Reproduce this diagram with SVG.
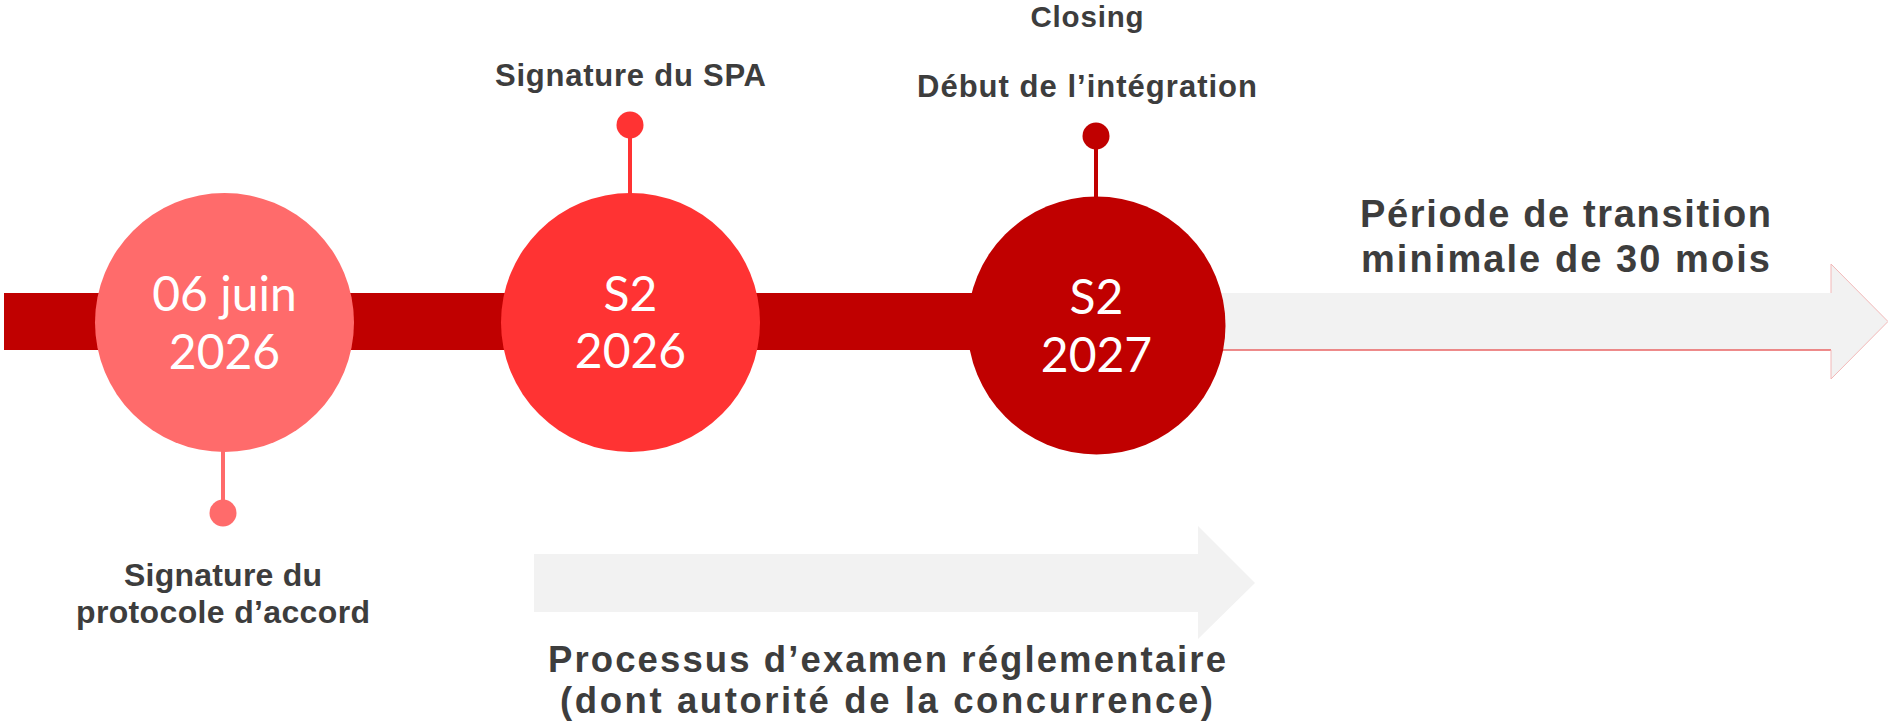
<svg xmlns="http://www.w3.org/2000/svg" width="1888" height="722" viewBox="0 0 1888 722">
  <style>
    .lbl { font-family: "Liberation Sans", Arial, sans-serif; font-weight: 700; fill: #3d3d3d; text-anchor: middle; }
    .date { font-family: "Lato", "Open Sans", sans-serif; font-weight: 400; fill: #ffffff; text-anchor: middle; font-size: 48px; }
    .stem { stroke-width: 4; }
  </style>
  <rect width="1888" height="722" fill="#ffffff"/>
  <g id="connectors">
    <rect x="4" y="293" width="1100" height="57" fill="#C00000"/>
    <g id="transition-arrow">
      <polygon points="1200,293 1831,293 1831,264 1888,321.5 1831,379 1831,350 1200,350" fill="#F2F2F2"/>
      <line x1="1200" y1="350" x2="1831" y2="350" stroke="#E86464" stroke-width="1.5"/>
      <polyline points="1831,293 1831,264 1888,321.5 1831,379 1831,350" fill="none" stroke="#F2B8B8" stroke-width="1"/>
    </g>
    <g id="review-arrow">
      <polygon points="534,554 1198,554 1198,526 1255,583 1198,639 1198,612 534,612" fill="#F2F2F2"/>
    </g>
    <line class="stem" x1="223" y1="440" x2="223" y2="513" stroke="#FF6B6B"/>
    <line class="stem" x1="630" y1="125" x2="630" y2="200" stroke="#FF3333"/>
    <line class="stem" x1="1096" y1="136" x2="1096" y2="205" stroke="#C00000"/>
  </g>
  <g id="node-1">
    <circle cx="224.5" cy="322.5" r="129.5" fill="#FF6B6B"/>
    <circle cx="223" cy="513" r="13.5" fill="#FF6B6B"/>
    <text class="date" x="224.5" y="311">06 juin</text>
    <text class="date" x="224.5" y="369">2026</text>
    <text class="lbl" x="223" y="586" font-size="32" textLength="198">Signature du</text>
    <text class="lbl" x="223" y="623" font-size="32" textLength="294">protocole d’accord</text>
  </g>
  <g id="node-2">
    <circle cx="630.5" cy="322.5" r="129.5" fill="#FF3333"/>
    <circle cx="630" cy="125" r="13.5" fill="#FF3333"/>
    <text class="date" x="630.5" y="311">S2</text>
    <text class="date" x="630.5" y="368">2026</text>
    <text class="lbl" x="630.5" y="86" font-size="31" textLength="271">Signature du SPA</text>
  </g>
  <g id="node-3">
    <circle cx="1096.5" cy="325.5" r="129" fill="#C00000"/>
    <circle cx="1096" cy="136" r="13.5" fill="#C00000"/>
    <text class="date" x="1096.5" y="314">S2</text>
    <text class="date" x="1096.5" y="372">2027</text>
    <text class="lbl" x="1087" y="27" font-size="29.5" textLength="113">Closing</text>
    <text class="lbl" x="1087" y="97" font-size="31" textLength="340">Début de l’intégration</text>
  </g>
  <g id="label-transition">
    <text class="lbl" x="1565.5" y="227" font-size="38" textLength="411">Période de transition</text>
    <text class="lbl" x="1565.5" y="272" font-size="38" textLength="409">minimale de 30 mois</text>
  </g>
  <g id="label-review">
    <text class="lbl" x="887" y="672" font-size="36.5" textLength="678">Processus d’examen réglementaire</text>
    <text class="lbl" x="886.5" y="713" font-size="36.5" textLength="653">(dont autorité de la concurrence)</text>
  </g>
</svg>
